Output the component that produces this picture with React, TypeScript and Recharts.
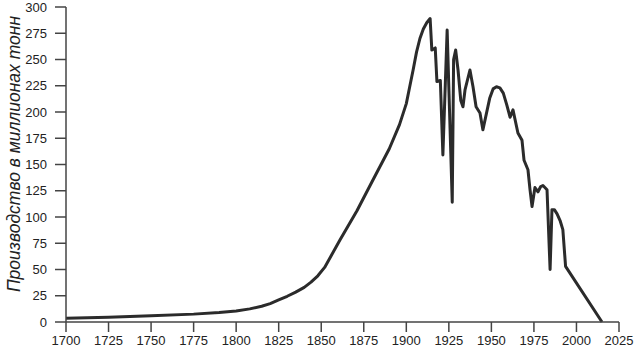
import { LineChart, Line, XAxis, YAxis, Label } from "recharts";

const years = [
  1700, 1725, 1750, 1775, 1790, 1800, 1808, 1815, 1820, 1825, 1830, 1835, 1840, 1844, 1848, 1852, 1861,
  1871, 1880, 1890, 1896, 1900, 1902, 1904, 1906, 1908, 1910, 1912, 1914, 1915, 1917, 1918, 1920,
  1921.5, 1924, 1927, 1927.8, 1929, 1930.4, 1932, 1933.3, 1934.5, 1937.4, 1939.2, 1941, 1943.3, 1945,
  1947, 1949, 1951, 1953, 1955, 1957, 1959, 1961, 1962.7, 1965.6, 1968, 1969.2, 1971.5, 1972.7, 1973.9,
  1975.6, 1977.4, 1979, 1980.3, 1982.7, 1984.5, 1985.6, 1987, 1988.6, 1990.5, 1992, 1993.6, 2015,
];
const output = [
  3.5, 4.5, 6, 7.5, 9, 10.5, 12.5, 15, 17.5, 21, 24.5, 28.5, 33, 38, 44, 52, 78,
  106, 134, 165, 188, 208, 224, 240, 257, 270, 279, 285, 289, 259, 261, 229, 230,
  159, 278, 114, 250, 259, 240, 211, 205, 221, 240, 224, 205, 199, 183,
  198, 213, 222, 224, 223, 218, 207, 195, 202, 180, 173, 154, 145, 126, 110,
  128, 124, 129, 130, 126, 50, 107, 107, 103, 96, 88, 53, 0,
];
const xTicks = [1700, 1725, 1750, 1775, 1800, 1825, 1850, 1875, 1900, 1925, 1950, 1975, 2000, 2025];
const yTicks = [0, 25, 50, 75, 100, 125, 150, 175, 200, 225, 250, 275, 300];
const yLabel = "Производство в миллионах тонн";

const data = years.map((year, i) => ({ year, value: output[i] }));

const font = "'Liberation Sans', Arial, sans-serif";
const tick = { fill: "#222", fontSize: 13, fontFamily: font };
const axisLine = { stroke: "#444", strokeWidth: 1.5 };

export default function App() {
  return (
    <div style={{ position: "absolute", left: 0, top: 0, background: "#fff" }}>
      <LineChart width={634} height={354} data={data} margin={{ top: 7, right: 15, bottom: 0, left: 0 }}>
        <XAxis
          dataKey="year"
          type="number"
          domain={[1700, 2025]}
          ticks={xTicks}
          interval={0}
          height={32}
          tick={tick}
          tickSize={10}
          tickMargin={4}
          axisLine={axisLine}
          tickLine={axisLine}
        />
        <YAxis
          type="number"
          domain={[0, 300]}
          ticks={yTicks}
          interval={0}
          width={66}
          tick={tick}
          tickSize={11}
          tickMargin={8}
          axisLine={axisLine}
          tickLine={axisLine}
        >
          <Label
            content={() => (
              <text
                x={15}
                y={154}
                transform="rotate(-90 15 154)"
                textAnchor="middle"
                dominantBaseline="middle"
                fontFamily={font}
                fontStyle="italic"
                fontSize={17.5}
                fill="#222"
              >
                {yLabel}
              </text>
            )}
          />
        </YAxis>
        <Line
          type="linear"
          dataKey="value"
          stroke="#2b2b2b"
          strokeWidth={3}
          strokeLinejoin="round"
          dot={false}
          isAnimationActive={false}
        />
      </LineChart>
    </div>
  );
}
